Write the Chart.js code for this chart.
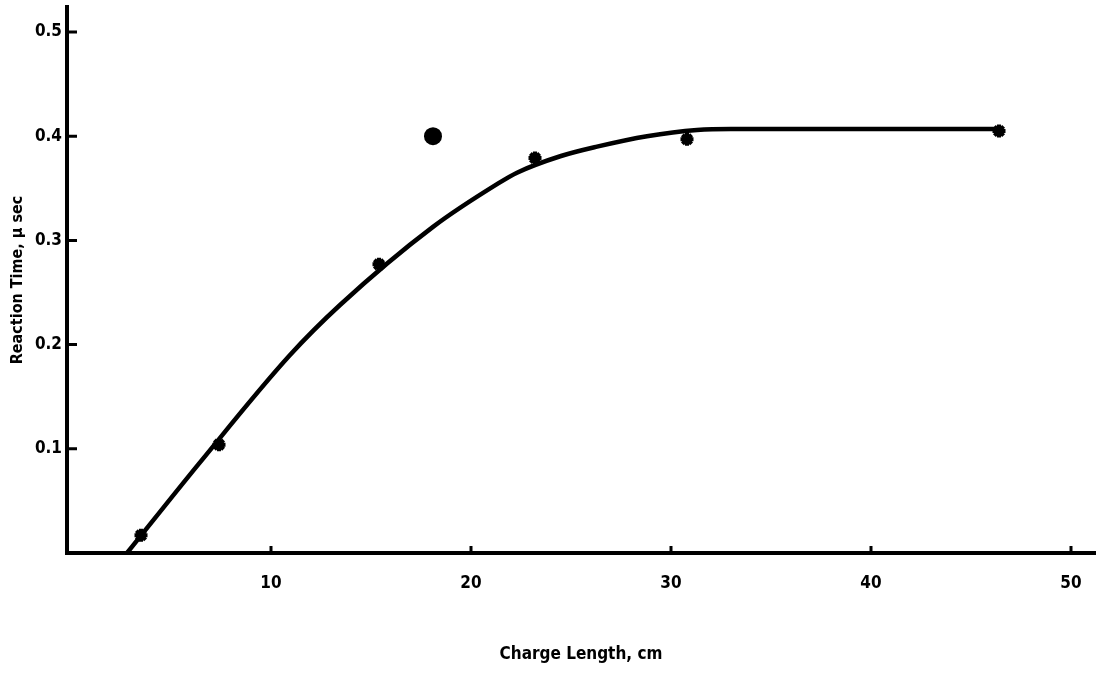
<!DOCTYPE html>
<html>
<head>
<meta charset="utf-8">
<script src="https://cdn.jsdelivr.net/npm/chart.js@4/dist/chart.umd.min.js"></script>
<style>
  html, body { margin: 0; padding: 0; background: #fff; }
  #wrap { width: 1099px; height: 675px; }
</style>
</head>
<body>
<div id="wrap"><canvas id="mycanvas" width="1099" height="675"></canvas></div>
<script>
// measured points (stars)
var starX = [3.5, 7.4, 15.4, 23.2, 30.8, 46.4];
var starY = [0.017, 0.104, 0.277, 0.379, 0.397, 0.405];
// odd point (filled circle)
var dotX = [18.1];
var dotY = [0.400];
// faired curve
var curveX = [2.8, 6.45, 10.95, 13.45, 18.1, 21.3, 22.3, 24.5, 26.3, 28.8, 31.3, 33, 46.4];
var curveY = [0, 0.087, 0.190, 0.238, 0.313, 0.354, 0.365, 0.381, 0.390, 0.400, 0.406, 0.407, 0.407];
// tick labels
var xTicks = [10, 20, 30, 40, 50];
var yTicks = [0.1, 0.2, 0.3, 0.4, 0.5];

var font = "'Liberation Sans Narrow', 'DejaVu Sans Condensed', 'Arial Narrow', sans-serif";

function pts(xs, ys) {
  var out = [];
  for (var i in xs) out.push({x: xs[i], y: ys[i]});
  return out;
}

// short tick marks drawn inward from the axes
var innerTicks = {
  id: 'innerTicks',
  afterDraw: function(chart) {
    var c = chart.ctx, xs = chart.scales.x, ys = chart.scales.y;
    c.save();
    c.strokeStyle = '#000';
    c.lineWidth = 3;
    c.beginPath();
    yTicks.forEach(function(v) {
      var py = ys.getPixelForValue(v);
      c.moveTo(xs.left, py); c.lineTo(xs.left + 10, py);
    });
    xTicks.forEach(function(v) {
      var px = xs.getPixelForValue(v);
      c.moveTo(px, ys.bottom); c.lineTo(px, ys.bottom - 7);
    });
    c.stroke();
    c.restore();
  }
};

var ctx = document.getElementById('mycanvas');
var chart = new Chart(ctx, {
  type: 'scatter',
  data: {
    datasets: [
      {
        label: 'curve',
        type: 'line',
        data: pts(curveX, curveY),
        borderColor: '#000',
        borderWidth: 4.5,
        pointRadius: 0,
        cubicInterpolationMode: 'monotone',
        fill: false
      },
      {
        label: 'measured',
        data: pts(starX, starY),
        pointStyle: 'star',
        pointRadius: 6.5,
        borderColor: '#000',
        backgroundColor: '#000',
        borderWidth: 4
      },
      {
        label: 'odd',
        data: pts(dotX, dotY),
        pointStyle: 'circle',
        pointRadius: 9,
        borderColor: '#000',
        backgroundColor: '#000',
        borderWidth: 0
      }
    ]
  },
  options: {
    responsive: false,
    animation: { duration: 0 },
    layout: { autoPadding: false, padding: { top: 7, right: 4, left: 0, bottom: 0 } },
    plugins: { legend: { display: false }, tooltip: { enabled: false } },
    scales: {
      x: {
        type: 'linear',
        min: -0.2,
        max: 51.2,
        afterBuildTicks: function(s) { s.ticks = xTicks.map(function(v) { return {value: v}; }); },
        afterFit: function(s) { s.height = 122; s.paddingLeft = 0; s.paddingRight = 0; },
        grid: { display: false, drawTicks: false },
        border: { color: '#000', width: 4 },
        ticks: {
          color: '#000',
          padding: 20,
          maxRotation: 0,
          font: { family: font, size: 17, weight: 'bold' }
        },
        title: {
          display: true,
          text: 'Charge Length, cm',
          color: '#000',
          padding: { top: 0, bottom: 10 },
          font: { family: font, size: 17, weight: 'bold' }
        }
      },
      y: {
        type: 'linear',
        min: 0,
        max: 0.524,
        afterBuildTicks: function(s) { s.ticks = yTicks.map(function(v) { return {value: v}; }); },
        afterFit: function(s) { s.width = 67; s.paddingTop = 0; s.paddingBottom = 0; },
        grid: { display: false, drawTicks: false },
        border: { color: '#000', width: 4 },
        ticks: {
          color: '#000',
          padding: 5,
          font: { family: font, size: 17, weight: 'bold' },
          callback: function(v) { return v.toFixed(1); }
        },
        title: {
          display: true,
          text: 'Reaction Time, μ sec',
          color: '#000',
          padding: { top: 8, bottom: 0 },
          font: { family: font, size: 16, weight: 'bold' }
        }
      }
    }
  },
  plugins: [innerTicks]
});
</script>
</body>
</html>
